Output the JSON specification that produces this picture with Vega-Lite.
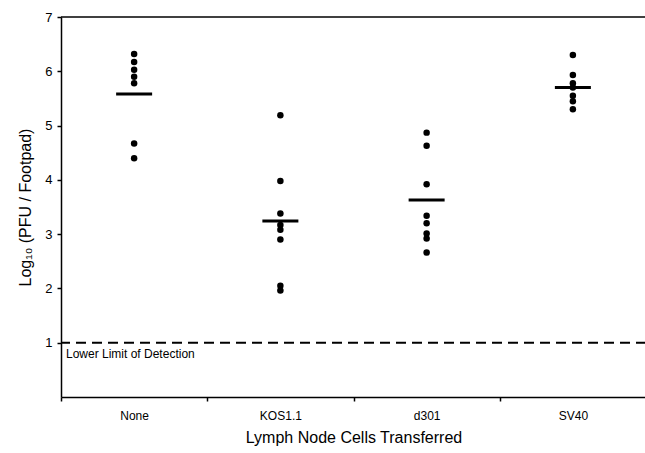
{
  "$schema": "https://vega.github.io/schema/vega-lite/v6.json",
  "width": 585,
  "height": 380,
  "autosize": {"type": "none"},
  "padding": {"left": 61, "top": 17, "right": 0, "bottom": 56},
  "background": "white",
  "config": {"view": {"stroke": null}, "font": "Liberation Sans"},
  "datasets": {
    "points": [
      {"group": "None", "value": 6.32},
      {"group": "None", "value": 6.17},
      {"group": "None", "value": 6.03},
      {"group": "None", "value": 5.90},
      {"group": "None", "value": 5.78},
      {"group": "None", "value": 4.67},
      {"group": "None", "value": 4.40},
      {"group": "KOS1.1", "value": 5.19},
      {"group": "KOS1.1", "value": 3.98},
      {"group": "KOS1.1", "value": 3.38},
      {"group": "KOS1.1", "value": 3.17},
      {"group": "KOS1.1", "value": 3.08},
      {"group": "KOS1.1", "value": 2.90},
      {"group": "KOS1.1", "value": 2.05},
      {"group": "KOS1.1", "value": 1.96},
      {"group": "d301", "value": 4.87},
      {"group": "d301", "value": 4.63},
      {"group": "d301", "value": 3.92},
      {"group": "d301", "value": 3.34},
      {"group": "d301", "value": 3.20},
      {"group": "d301", "value": 3.01},
      {"group": "d301", "value": 2.92},
      {"group": "d301", "value": 2.66},
      {"group": "SV40", "value": 6.30},
      {"group": "SV40", "value": 5.93},
      {"group": "SV40", "value": 5.78},
      {"group": "SV40", "value": 5.70},
      {"group": "SV40", "value": 5.55},
      {"group": "SV40", "value": 5.45},
      {"group": "SV40", "value": 5.30}
    ],
    "means": [
      {"group": "None", "value": 5.58},
      {"group": "KOS1.1", "value": 3.24},
      {"group": "d301", "value": 3.63},
      {"group": "SV40", "value": 5.70}
    ],
    "lines": [
      {"level": 7, "kind": "top"}
    ],
    "limit": [
      {"level": 1, "group": "None", "label": "Lower Limit of Detection"}
    ]
  },
  "resolve": {"scale": {"x": "shared", "y": "shared"}},
  "layer": [
    {
      "data": {"name": "points"},
      "mark": {"type": "circle", "size": 42, "color": "black", "opacity": 1},
      "encoding": {
        "x": {
          "field": "group",
          "type": "nominal",
          "sort": ["None", "KOS1.1", "d301", "SV40"],
          "scale": {"domain": ["None", "KOS1.1", "d301", "SV40"], "paddingInner": 0, "paddingOuter": 0},
          "axis": {
            "title": "Lymph Node Cells Transferred",
            "titleFontSize": 16,
            "titleFontWeight": "normal",
            "titleColor": "black",
            "titlePadding": 8,
            "labelAngle": 0,
            "labelFontSize": 12,
            "labelColor": "black",
            "labelPadding": 9,
            "tickBand": "extent",
            "tickSize": 4,
            "tickColor": "black",
            "tickWidth": 1.5,
            "domainColor": "black",
            "domainWidth": 1.5
          }
        },
        "y": {
          "field": "value",
          "type": "quantitative",
          "scale": {"domain": [0, 7], "nice": false, "zero": true},
          "axis": {
            "title": "Log₁₀ (PFU / Footpad)",
            "format": "d",
            "titleFontSize": 16,
            "titleFontWeight": "normal",
            "titleColor": "black",
            "titlePadding": 11,
            "values": [1, 2, 3, 4, 5, 6, 7],
            "labelFontSize": 13,
            "labelColor": "black",
            "labelPadding": 5,
            "tickSize": 4,
            "tickColor": "black",
            "tickWidth": 1.5,
            "domainColor": "black",
            "domainWidth": 1.5,
            "grid": false
          }
        }
      }
    },
    {
      "data": {"name": "means"},
      "mark": {"type": "tick", "color": "black", "size": 36, "thickness": 3, "orient": "horizontal", "opacity": 1},
      "encoding": {
        "x": {"field": "group", "type": "nominal"},
        "y": {"field": "value", "type": "quantitative", "axis": {"format": "d"}}
      }
    },
    {
      "data": {"name": "lines"},
      "mark": {"type": "rule", "color": "black", "strokeWidth": 1.5},
      "encoding": {"y": {"field": "level", "type": "quantitative", "axis": {"format": "d"}}}
    },
    {
      "data": {"name": "limit"},
      "mark": {"type": "rule", "color": "black", "strokeWidth": 2, "strokeDash": [10, 6]},
      "encoding": {"y": {"field": "level", "type": "quantitative", "axis": {"format": "d"}}}
    },
    {
      "data": {"name": "limit"},
      "mark": {"type": "text", "align": "left", "baseline": "middle", "dx": 5, "dy": 11, "fontSize": 12, "color": "black"},
      "encoding": {
        "x": {"field": "group", "type": "nominal", "bandPosition": 0},
        "y": {"field": "level", "type": "quantitative", "axis": {"format": "d"}},
        "text": {"field": "label"}
      }
    }
  ]
}
